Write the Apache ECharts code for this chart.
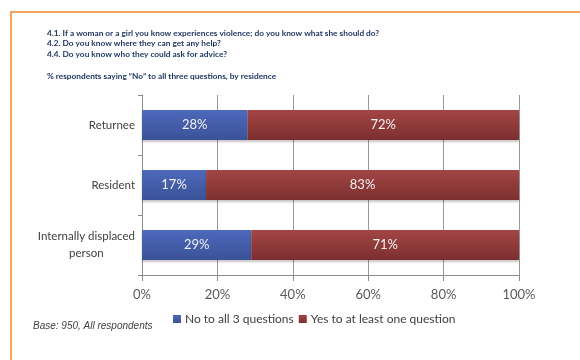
<!DOCTYPE html>
<html>
<head>
<meta charset="utf-8">
<script src="https://cdn.jsdelivr.net/npm/echarts@6/dist/echarts.min.js"></script>
<style>
  html, body { margin: 0; padding: 0; background: #fff; }
  #chart { width: 580px; height: 360px; }
</style>
</head>
<body>
<div id="chart"></div>
<script>
// Residence groups, top to bottom
const categories = ['Returnee', 'Resident', 'Internally displaced\nperson'];
// Share of respondents (%)
const noToAll = [28, 17, 29];
const yesToOne = [72, 83, 71];
const seriesNames = ['No to all 3 questions', 'Yes to at least one question'];
const xTicks = [0, 20, 40, 60, 80, 100];

const questionLines = [
  '4.1. If a woman or a girl you know experiences violence; do you know what she should do?',
  '4.2. Do you know where they can get any help?',
  '4.4. Do you know who they could ask for advice?'
];
const subtitle = '% respondents saying \u201cNo\u201d to all three questions, by residence';
const baseNote = 'Base: 950, All respondents';

const FONT = 'Lato, "Liberation Sans", sans-serif';

function grad(top, bottom) {
  return new echarts.graphic.LinearGradient(0, 0, 0, 1, [
    { offset: 0, color: top },
    { offset: 1, color: bottom }
  ]);
}

const chart = echarts.init(document.getElementById('chart'), null, { renderer: 'canvas' });

const headerTexts = questionLines.map((t, i) => ({
  type: 'text',
  left: 47,
  top: 29 + i * 10.5,
  style: { text: t, font: 'bold 8.3px ' + FONT, fill: '#1F3864' }
}));

chart.setOption({
  animation: false,
  backgroundColor: '#ffffff',
  grid: { left: 142, right: 61, top: 95, bottom: 85, containLabel: false },
  legend: {
    left: 168,
    top: 308,
    icon: 'rect',
    itemWidth: 8,
    itemHeight: 8,
    itemGap: 5,
    data: seriesNames,
    textStyle: { color: '#404040', fontSize: 12, fontFamily: FONT, padding: [0, 0, 0, -1] }
  },
  xAxis: {
    type: 'value',
    min: 0,
    max: 100,
    interval: 20,
    axisLine: { show: true, lineStyle: { color: '#8C8C8C', width: 1 } },
    axisTick: { show: true, length: 6, lineStyle: { color: '#8C8C8C' } },
    splitLine: { show: true, lineStyle: { color: '#9A9A9A', width: 1 } },
    axisLabel: {
      color: '#595959',
      fontSize: 13,
      fontFamily: FONT,
      margin: 13,
      formatter: v => (xTicks.indexOf(v) >= 0 ? v + '%' : '')
    }
  },
  yAxis: {
    type: 'category',
    inverse: true,
    data: categories,
    axisLine: { show: true, lineStyle: { color: '#8C8C8C', width: 1 } },
    axisTick: { show: true, length: 4, lineStyle: { color: '#8C8C8C' } },
    axisLabel: {
      color: '#404040',
      fontSize: 11.5,
      fontFamily: FONT,
      margin: 7,
      lineHeight: 17,
      formatter: v => v.split('\n').map(s => '{c|' + s + '}').join('\n'),
      rich: { c: { align: 'center', color: '#404040', fontSize: 11.5, fontFamily: FONT, lineHeight: 17 } }
    }
  },
  series: [
    {
      name: seriesNames[0],
      type: 'bar',
      stack: 'all',
      barCategoryGap: '50%',
      data: noToAll,
      itemStyle: {
        color: grad('#4D69BC', '#3B5298'),
        shadowColor: 'rgba(0,0,0,0.22)', shadowBlur: 2, shadowOffsetY: 2
      },
      label: {
        show: true, position: 'inside', formatter: '{c}%',
        color: '#F2F2F2', fontSize: 13, fontFamily: FONT
      }
    },
    {
      name: seriesNames[1],
      type: 'bar',
      stack: 'all',
      barCategoryGap: '50%',
      data: yesToOne,
      itemStyle: {
        color: grad('#A34545', '#7C2F2F'),
        shadowColor: 'rgba(0,0,0,0.22)', shadowBlur: 2, shadowOffsetY: 2
      },
      label: {
        show: true, position: 'inside', formatter: '{c}%',
        color: '#F2F2F2', fontSize: 13, fontFamily: FONT
      }
    }
  ],
  graphic: [
    {
      type: 'polyline',
      shape: { points: [[11, 360], [11, 12], [580, 12]] },
      style: { stroke: '#F9A45E', lineWidth: 2, fill: null }
    },
    ...headerTexts,
    {
      type: 'text',
      left: 47,
      top: 72,
      style: { text: subtitle, font: 'bold 8.3px ' + FONT, fill: '#1F3864' }
    },
    {
      type: 'text',
      left: 33,
      top: 321,
      style: { text: baseNote, font: 'italic 10px "Liberation Sans", Arial, sans-serif', fill: '#404040' }
    }
  ]
});
</script>
</body>
</html>
